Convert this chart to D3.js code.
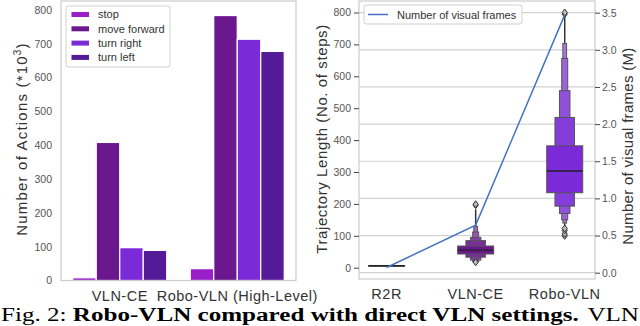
<!DOCTYPE html>
<html><head><meta charset="utf-8">
<script src="https://cdn.jsdelivr.net/npm/d3@7/dist/d3.min.js"></script>
<style>
html,body{margin:0;padding:0;background:#fff;overflow:hidden;}
svg{display:block;}
text{font-family:"Liberation Sans",Arial,sans-serif;}
text.cap{font-family:"Liberation Serif","Times New Roman",serif;}
</style></head>
<body>
<svg id="c" width="640" height="326"></svg>
<script>
// ---------- Data: left bar chart ----------
const barCategories = ["VLN-CE", "Robo-VLN (High-Level)"];
const actionNames = ["stop", "move forward", "turn right", "turn left"];
const actionsVLNCE = [8, 408, 97, 89];
const actionsRobo = [35, 783, 713, 677];
const actionColors = ["#9b1fc8", "#6b188f", "#7a2ad7", "#541a98"];
const leftTicks = [0, 100, 200, 300, 400, 500, 600, 700, 800];

// ---------- Data: right boxen + line chart ----------
const trajCategories = ["R2R", "VLN-CE", "Robo-VLN"];
const visualFramesM = [0.07, 0.64, 3.47];
const trajMedians = [6, 55, 303];
// letter-value boxes [lower, upper], from innermost (widest) outward
const boxesR2R = [[5, 7]];
const boxesVLNCE = [[43, 68], [33, 85], [24, 95], [19, 112], [16, 130]];
const boxesRobo = [[235, 382], [193, 471], [170, 555], [150, 656], [140, 703]];
const tailsR2R = [5, 7];
const tailsVLNCE = [15, 183];
const tailsRobo = [108, 790];
const outliersR2R = [];
const outliersVLNCE = [17, 196, 199];
const outliersRobo = [100, 106, 117, 123, 795, 800];
const boxColors = ["#9b1fc8", "#6b188f", "#7a2ad7"];
const trajTicks = [0, 100, 200, 300, 400, 500, 600, 700, 800];
const frameTicks = [0, 0.5, 1, 1.5, 2, 2.5, 3, 3.5];

const svg = d3.select("#c");
const tickColor = "#555", labelColor = "#333", spine = "#cccccc";

// ================= LEFT CHART =================
const L = {x0: 61, x1: 296, y0: 1, y1: 280.5};
const xL = d3.scaleBand().domain(barCategories).range([L.x0, L.x1]).paddingInner(0).paddingOuter(0);
const yL = d3.scaleLinear().domain([0, 826]).range([L.y1, L.y0]);
const groupW = xL.bandwidth() * 0.8;
const xSub = d3.scaleBand().domain(actionNames).range([0, groupW]);

const gL = svg.append("g");
const barData = [];
barCategories.forEach((c, ci) => {
  const vals = ci === 0 ? actionsVLNCE : actionsRobo;
  actionNames.forEach((a, ai) => barData.push({c, a, v: vals[ai], color: actionColors[ai]}));
});
gL.selectAll("rect.bar").data(barData).enter().append("rect")
  .attr("x", d => xL(d.c) + xL.bandwidth() * 0.1 + xSub(d.a))
  .attr("width", xSub.bandwidth())
  .attr("y", d => yL(d.v))
  .attr("height", d => yL(0) - yL(d.v))
  .attr("fill", d => d.color)
  .attr("stroke", "#fff").attr("stroke-width", 1.2);

// spines
gL.append("rect").attr("x", L.x0).attr("y", L.y0).attr("width", L.x1 - L.x0).attr("height", L.y1 - L.y0)
  .attr("fill", "none").attr("stroke", spine).attr("stroke-width", 1.2);

// y axis
const axL = d3.axisLeft(yL).tickValues(leftTicks).tickSize(0).tickPadding(9);
const gaxL = gL.append("g").attr("transform", `translate(${L.x0},0)`).call(axL);
gaxL.select(".domain").remove();
gaxL.selectAll("text").attr("fill", tickColor).attr("font-size", 10.5);

// x axis
const axLx = d3.axisBottom(xL).tickSize(0).tickPadding(10);
const gaxLx = gL.append("g").attr("transform", `translate(0,${L.y1})`).call(axLx);
gaxLx.select(".domain").remove();
gaxLx.selectAll("text").attr("fill", labelColor).attr("font-size", 14.5).attr("letter-spacing", 0.5);

// y label
const ylab = gL.append("text").attr("transform", `translate(27,139) rotate(-90)`).attr("text-anchor", "middle")
  .attr("fill", labelColor).attr("font-size", 15).attr("letter-spacing", 1.2);
ylab.append("tspan").text("Number of Actions (*10");
ylab.append("tspan").attr("font-size", 10).attr("dy", -6).text("3");
ylab.append("tspan").attr("dy", 6).text(")");

// legend
const leg = gL.append("g");
leg.append("rect").attr("x", 66).attr("y", 6).attr("width", 104).attr("height", 61).attr("rx", 2.5)
  .attr("fill", "#fff").attr("stroke", "#d0d0d0").attr("stroke-width", 1);
actionNames.forEach((a, i) => {
  const cy = 14.5 + i * 14.3;
  leg.append("rect").attr("x", 71.5).attr("y", cy - 2.5).attr("width", 17.5).attr("height", 5).attr("fill", actionColors[i]);
  leg.append("text").attr("x", 98).attr("y", cy + 3.8).attr("fill", labelColor).attr("font-size", 11).text(a);
});

// ================= RIGHT CHART =================
const R = {x0: 359, x1: 595, y0: 1, y1: 279};
const xR = d3.scaleLinear().domain([-0.31, 2.34]).range([R.x0, R.x1]);
const yR = d3.scaleLinear().domain([-35.4, 836]).range([R.y1, R.y0]);
const yF = d3.scaleLinear().domain([-0.085, 3.657]).range([R.y1, R.y0]);
const gR = svg.append("g");

// grid from right axis
gR.selectAll("line.grid").data(frameTicks).enter().append("line")
  .attr("x1", R.x0).attr("x2", R.x1).attr("y1", d => yF(d)).attr("y2", d => yF(d))
  .attr("stroke", "#d2d2d2").attr("stroke-width", 1.2);

// boxen
const allBoxes = [boxesR2R, boxesVLNCE, boxesRobo];
const allTails = [tailsR2R, tailsVLNCE, tailsRobo];
const allOut = [outliersR2R, outliersVLNCE, outliersRobo];
const maxW = 36;
trajCategories.forEach((c, ci) => {
  const cx = xR(ci);
  const g = gR.append("g");
  g.append("line").attr("x1", cx).attr("x2", cx).attr("y1", yR(allTails[ci][0])).attr("y2", yR(allTails[ci][1]))
    .attr("stroke", "#333").attr("stroke-width", 1.5);
  const boxes = allBoxes[ci];
  for (let i = boxes.length - 1; i >= 0; i--) {
    const w = maxW * Math.pow(0.5, i) + (i > 0 ? 1.5 : 0);
    const col = d3.interpolateRgb(boxColors[ci], "#d9c8e6")(i * 0.12);
    g.append("rect").attr("x", cx - w / 2).attr("width", w)
      .attr("y", yR(boxes[i][1])).attr("height", Math.max(yR(boxes[i][0]) - yR(boxes[i][1]), 0.8))
      .attr("fill", col).attr("stroke", "#555").attr("stroke-width", 1);
  }
  g.append("line").attr("x1", cx - maxW / 2).attr("x2", cx + maxW / 2)
    .attr("y1", yR(trajMedians[ci])).attr("y2", yR(trajMedians[ci]))
    .attr("stroke", "#222").attr("stroke-width", 1.4);
  g.selectAll("path.out").data(allOut[ci]).enter().append("path")
    .attr("d", d => `M${cx},${yR(d) - 3.5}L${cx + 2.6},${yR(d)}L${cx},${yR(d) + 3.5}L${cx - 2.6},${yR(d)}Z`)
    .attr("fill", "#bbb").attr("stroke", "#333").attr("stroke-width", 1);
});

// line
const lineGen = d3.line().x((d, i) => xR(i)).y(d => yF(d));
gR.append("path").datum(visualFramesM).attr("d", lineGen).attr("fill", "none")
  .attr("stroke", "#4472c4").attr("stroke-width", 1.5);

// spines
gR.append("rect").attr("x", R.x0).attr("y", R.y0).attr("width", R.x1 - R.x0).attr("height", R.y1 - R.y0)
  .attr("fill", "none").attr("stroke", spine).attr("stroke-width", 1.2);

// left axis
const gaxR = gR.append("g").attr("transform", `translate(${R.x0},0)`)
  .call(d3.axisLeft(yR).tickValues(trajTicks).tickSize(5).tickPadding(3));
gaxR.select(".domain").remove();
gaxR.selectAll("line").attr("stroke", "#444");
gaxR.selectAll("text").attr("fill", tickColor).attr("font-size", 10.5);

// right axis
const gaxF = gR.append("g").attr("transform", `translate(${R.x1},0)`)
  .call(d3.axisRight(yF).tickValues(frameTicks).tickFormat(d3.format(".1f")).tickSize(5).tickPadding(2));
gaxF.select(".domain").remove();
gaxF.selectAll("line").attr("stroke", "#444");
gaxF.selectAll("text").attr("fill", tickColor).attr("font-size", 10.5);

// x labels
gR.selectAll("text.xl").data(trajCategories).enter().append("text")
  .attr("x", (d, i) => xR(i)).attr("y", 299).attr("text-anchor", "middle")
  .attr("fill", labelColor).attr("font-size", 14.5).attr("letter-spacing", 0.5).text(d => d);

// axis labels
gR.append("text").attr("transform", `translate(327,139) rotate(-90)`).attr("text-anchor", "middle")
  .attr("fill", labelColor).attr("font-size", 15).attr("letter-spacing", 0.6).text("Trajectory Length (No. of steps)");
gR.append("text").attr("transform", `translate(633,146) rotate(-90)`).attr("text-anchor", "middle")
  .attr("fill", labelColor).attr("font-size", 15).attr("letter-spacing", 0.3).text("Number of visual frames (M)");

// legend
const legR = gR.append("g");
legR.append("rect").attr("x", 364).attr("y", 5).attr("width", 158).attr("height", 19).attr("rx", 2.5)
  .attr("fill", "#fff").attr("stroke", "#d0d0d0").attr("stroke-width", 1);
legR.append("line").attr("x1", 368).attr("x2", 388).attr("y1", 14.5).attr("y2", 14.5).attr("stroke", "#4472c4").attr("stroke-width", 1.5);
legR.append("text").attr("x", 397).attr("y", 18.5).attr("fill", labelColor).attr("font-size", 11).text("Number of visual frames");

// caption (vertically compressed to fit the bottom strip)
const capG = svg.append("g").attr("transform", "translate(0,321.3) scale(1,0.76)");
const cap = capG.append("text").attr("class", "cap").attr("x", 1).attr("y", 0)
  .attr("font-size", 25.1).attr("fill", "#000");
cap.append("tspan").text("Fig. 2: ");
cap.append("tspan").attr("font-weight", "bold").text("Robo-VLN compared with direct VLN settings.");
capG.append("text").attr("class", "cap").attr("x", 639).attr("y", 0).attr("text-anchor", "end")
  .attr("font-size", 25.1).attr("fill", "#000").text("VLN");
</script>
</body></html>
